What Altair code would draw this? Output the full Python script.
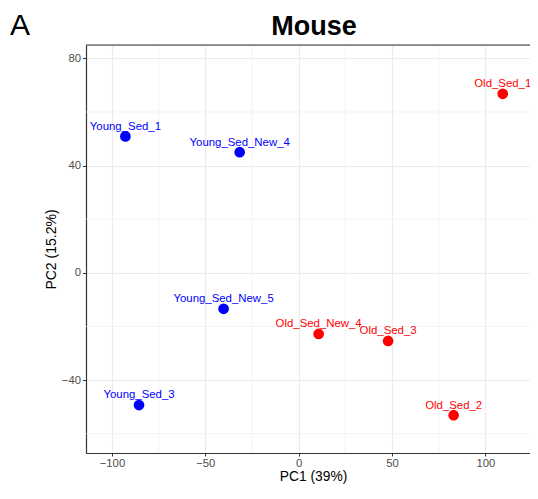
import altair as alt
import pandas as pd

samples = ["Young_Sed_1", "Young_Sed_New_4", "Young_Sed_New_5", "Young_Sed_3",
           "Old_Sed_1", "Old_Sed_New_4", "Old_Sed_3", "Old_Sed_2"]
pc1 = [-92.8, -31.6, -40.2, -85.5, 109.3, 10.7, 47.9, 83.0]
pc2 = [50.9, 45.0, -13.4, -49.3, 66.8, -22.8, -25.4, -53.1]
group = ["Young", "Young", "Young", "Young", "Old", "Old", "Old", "Old"]

x_ticks = [-100, -50, 0, 50, 100]
y_ticks = [-40, 0, 40, 80]
x_minor = [-75, -25, 25, 75]
y_minor = [-60, -20, 20, 60]
x_domain = [-113.9, 123.9]
y_domain = [-67.2, 85.0]

FONT = "Liberation Sans"
W, H = 444, 408

df = pd.DataFrame({"sample": samples, "PC1": pc1, "PC2": pc2, "group": group})

xs = alt.Scale(domain=x_domain, nice=False, zero=False)
ys = alt.Scale(domain=y_domain, nice=False, zero=False)
color = alt.Scale(domain=["Young", "Old"], range=["#0000FF", "#FF0000"])

xaxis = alt.Axis(values=x_ticks, title="PC1 (39%)", grid=True, gridColor="#EBEBEB",
                 gridWidth=1.1, domainColor="#333333", domainWidth=1.2,
                 tickColor="#333333", tickSize=3, labelColor="#4D4D4D",
                 labelFontSize=11.3, labelFont=FONT, labelPadding=1.5,
                 titleFont=FONT, titleFontSize=13.8, titleFontWeight="normal",
                 titleColor="black", titlePadding=1, titleX=227)
yaxis = alt.Axis(values=y_ticks, title="PC2 (15.2%)", grid=True, gridColor="#EBEBEB",
                 gridWidth=1.1, domainColor="#333333", domainWidth=1.2,
                 tickColor="#333333", tickSize=3.5, labelColor="#4D4D4D",
                 labelFontSize=11.3, labelFont=FONT, labelPadding=2,
                 titleFont=FONT, titleFontSize=14, titleFontWeight="normal",
                 titleColor="black", titlePadding=3)

minor_x = alt.Chart(pd.DataFrame({"v": x_minor})).mark_rule(
    color="#EBEBEB", strokeWidth=0.6).encode(x=alt.X("v:Q", scale=xs, axis=xaxis))
minor_y = alt.Chart(pd.DataFrame({"v": y_minor})).mark_rule(
    color="#EBEBEB", strokeWidth=0.6).encode(y=alt.Y("v:Q", scale=ys, axis=yaxis))

top_border = alt.Chart(pd.DataFrame({"a": [0]})).mark_rule(
    color="#333333", strokeWidth=1.2).encode(
    x=alt.value(0), x2=alt.value(W), y=alt.value(0))

base = alt.Chart(df).encode(
    x=alt.X("PC1:Q", scale=xs, axis=xaxis),
    y=alt.Y("PC2:Q", scale=ys, axis=yaxis),
    color=alt.Color("group:N", scale=color, legend=None),
)
points = base.mark_circle(size=115, opacity=1)
labels = base.mark_text(font=FONT, fontSize=11.4, baseline="alphabetic",
                        align="center", dy=-6.7).encode(text="sample:N")

panel_label = alt.Chart(pd.DataFrame({"t": ["A"]})).mark_text(
    font=FONT, fontSize=30, align="left", baseline="alphabetic", color="black"
).encode(text="t:N", x=alt.value(-76), y=alt.value(-10.5))

title_text = alt.Chart(pd.DataFrame({"t": ["Mouse"]})).mark_text(
    font=FONT, fontSize=27, fontWeight="bold", align="center",
    baseline="alphabetic", color="black"
).encode(text="t:N", x=alt.value(228), y=alt.value(-10))

chart = alt.layer(minor_x, minor_y, top_border, points, labels, panel_label,
                  title_text).properties(
    width=W, height=H,
    autosize=alt.AutoSizeParams(type="none"),
    padding={"left": 78, "top": 37, "right": 0, "bottom": 33},
).configure_view(stroke=None).configure(background="white")

chart.save("out.html", embed_options={"renderer": "svg", "actions": False})
